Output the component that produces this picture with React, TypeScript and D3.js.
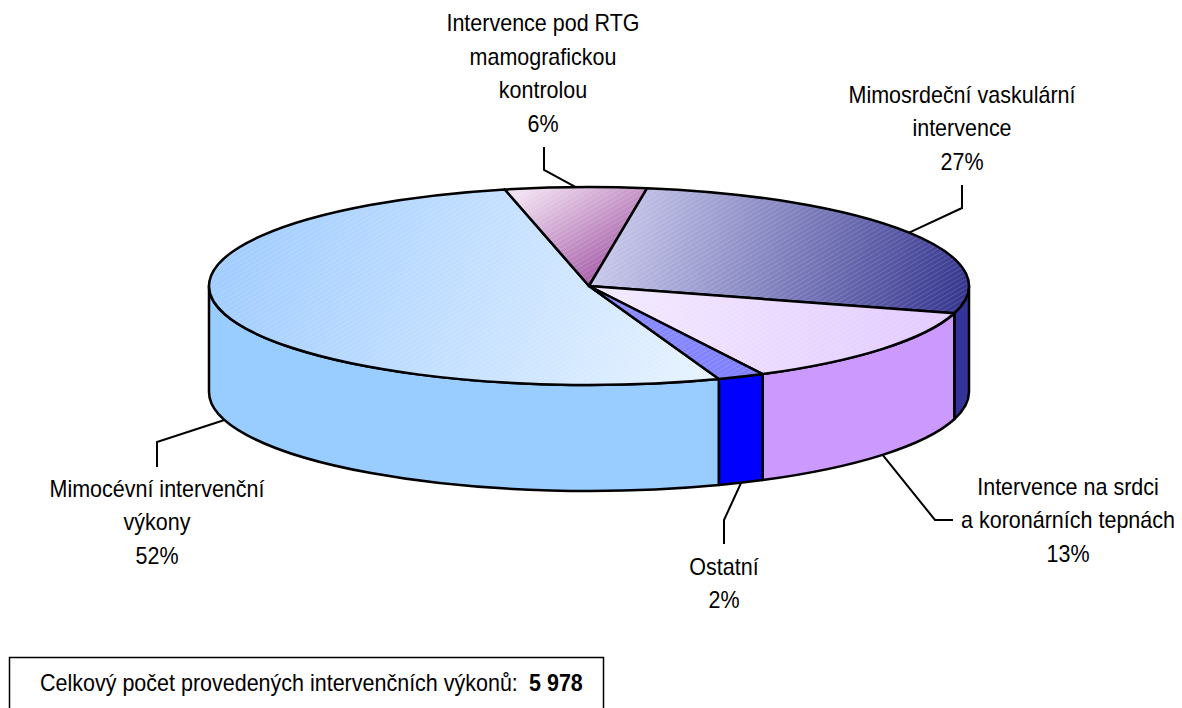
import React from 'react';
import * as d3 from 'd3';

// ---- data ----
const categories = [
  'Mimocévní intervenční výkony',
  'Intervence pod RTG mamografickou kontrolou',
  'Mimosrdeční vaskulární intervence',
  'Intervence na srdci a koronárních tepnách',
  'Ostatní',
];
const shares = [52, 6, 27, 13, 2];
const labelLines = [
  ['Mimocévní intervenční', 'výkony'],
  ['Intervence pod RTG', 'mamografickou', 'kontrolou'],
  ['Mimosrdeční vaskulární', 'intervence'],
  ['Intervence na srdci', 'a koronárních tepnách'],
  ['Ostatní'],
];
const totalLabel = 'Celkový počet provedených intervenčních výkonů:';
const totalValue = '5 978';

// ---- styles / layout ----
const sideColors = ['#99ccff', '#b070b0', '#333399', '#cc99ff', '#0000ff'];
const topGrad = [
  { from: '#9ecbff', to: '#e6f2ff', x1: 220, y1: 200, x2: 700, y2: 380 },
  { from: '#f1dff1', to: '#a055a3', x1: 530, y1: 188, x2: 600, y2: 290 },
  { from: '#c6c6ea', to: '#36368f', x1: 620, y1: 200, x2: 965, y2: 300 },
  { from: '#e2caff', to: '#f2e8ff', x1: 950, y1: 320, x2: 620, y2: 290 },
  { from: '#8c8cff', to: '#8080ff', x1: 600, y1: 290, x2: 740, y2: 380 },
];
// label layout: text center x, first baseline, elbow and end of leader
const labelLayout = [
  { x: 157, y: 497, elbow: [157, 442], end: [157, 467] },
  { x: 543, y: 31.5, elbow: [544, 170], end: [544, 147] },
  { x: 962, y: 103, elbow: [962, 208], end: [962, 185] },
  { x: 1068, y: 495, elbow: [935, 520], end: [953, 520] },
  { x: 724, y: 575, elbow: [724, 520], end: [724, 544] },
];

const W = 1182;
const H = 708;
const cx = 589;
const cy = 286;
const rx = 380;
const ry = 99;
const depth = 106;
const LINE_H = 33.5;
const FONT = "'Liberation Sans', Arial, sans-serif";
const FS = 23;
const SX = 0.935;

const deg = Math.PI / 180;
const startA = 160 * deg;

const px = (a: number) => cx + rx * Math.sin(a);
const py = (a: number, dy = 0) => cy - ry * Math.cos(a) + dy;

function topPath(a0: number, a1: number) {
  const large = a1 - a0 > Math.PI ? 1 : 0;
  return `M${cx},${cy}L${px(a0)},${py(a0)}A${rx},${ry} 0 ${large} 1 ${px(a1)},${py(a1)}Z`;
}

function sidePaths(a0: number, a1: number) {
  const out: string[] = [];
  for (let k = -1; k <= 2; k++) {
    const v0 = Math.PI / 2 + k * 2 * Math.PI;
    const v1 = (3 * Math.PI) / 2 + k * 2 * Math.PI;
    const s = Math.max(a0, v0);
    const e = Math.min(a1, v1);
    if (e > s + 1e-6) {
      out.push(
        `M${px(s)},${py(s)}A${rx},${ry} 0 0 1 ${px(e)},${py(e)}` +
          `L${px(e)},${py(e, depth)}A${rx},${ry} 0 0 0 ${px(s)},${py(s, depth)}Z`
      );
    }
  }
  return out;
}

export default function App() {
  const pie = d3
    .pie<number>()
    .sort(null)
    .value((d) => d)
    .startAngle(startA)
    .endAngle(startA + 2 * Math.PI);
  const arcs = pie(shares);
  const total = d3.sum(shares);
  const fmt = d3.format('.0%');

  return (
    <svg
      width={W}
      height={H}
      style={{ position: 'absolute', left: 0, top: 0, background: '#fff' }}
      fontFamily={FONT}
    >
      <defs>
        {topGrad.map((g, i) => (
          <linearGradient
            key={i}
            id={`tg${i}`}
            gradientUnits="userSpaceOnUse"
            x1={g.x1}
            y1={g.y1}
            x2={g.x2}
            y2={g.y2}
          >
            <stop offset="0" stopColor={g.from} />
            <stop offset="1" stopColor={g.to} />
          </linearGradient>
        ))}
        <pattern id="hatch" width="4" height="4" patternUnits="userSpaceOnUse" patternTransform="rotate(-30)">
          <line x1="0" y1="0" x2="4" y2="0" stroke="#ffffff" strokeWidth="0.8" strokeOpacity="0.35" />
        </pattern>
      </defs>

      {/* side walls */}
      {arcs.map((a, i) =>
        sidePaths(a.startAngle, a.endAngle).map((d, j) => (
          <path key={`s${i}-${j}`} d={d} fill={sideColors[i]} stroke="#000" strokeWidth={2.5} strokeLinejoin="round" />
        ))
      )}

      {/* top faces */}
      {arcs.map((a, i) => (
        <g key={`t${i}`}>
          <path d={topPath(a.startAngle, a.endAngle)} fill={`url(#tg${i})`} />
          <path d={topPath(a.startAngle, a.endAngle)} fill="url(#hatch)" stroke="#000" strokeWidth={2.5} strokeLinejoin="round" />
        </g>
      ))}

      {/* leader lines and labels */}
      {arcs.map((a, i) => {
        const mid = (a.startAngle + a.endAngle) / 2;
        const c = Math.cos(mid);
        const ax = px(mid);
        const ay = py(mid, c < 0 ? depth : 0);
        const L = labelLayout[i];
        const lines = [...labelLines[i], fmt(shares[i] / total)];
        return (
          <g key={`l${i}`}>
            <polyline
              points={`${ax},${ay} ${L.elbow[0]},${L.elbow[1]} ${L.end[0]},${L.end[1]}`}
              fill="none"
              stroke="#000"
              strokeWidth={2}
            />
            <g transform={`translate(${L.x},0) scale(${SX},1)`}>
              <text textAnchor="middle" fontSize={FS} fill="#000">
                {lines.map((t, k) => (
                  <tspan key={k} x={0} y={L.y + k * LINE_H}>
                    {t}
                  </tspan>
                ))}
              </text>
            </g>
          </g>
        );
      })}

      {/* total box */}
      <rect x={9.5} y={657.5} width={594} height={80} fill="#fff" stroke="#000" strokeWidth={1.5} />
      <g transform={`translate(40,0) scale(${SX},1)`}>
        <text x={0} y={691} fontSize={FS} fill="#000">
          {totalLabel}
          <tspan fontWeight="bold" dx={12}>
            {totalValue}
          </tspan>
        </text>
      </g>
    </svg>
  );
}
